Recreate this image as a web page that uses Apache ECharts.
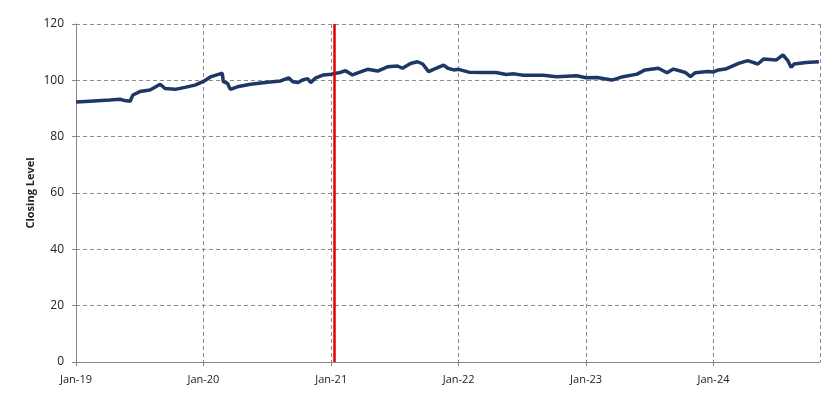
<!DOCTYPE html>
<html>
<head>
<meta charset="utf-8">
<script src="https://cdn.jsdelivr.net/npm/echarts@6/dist/echarts.min.js"></script>
<style>html,body{margin:0;padding:0;background:#fff}#c{width:837px;height:398px}</style>
</head>
<body>
<div id="c"></div>
<script>
var dates = ["2019-01-01","2019-02-10","2019-04-08","2019-05-07","2019-05-21","2019-06-05","2019-06-13","2019-07-03","2019-08-01","2019-08-30","2019-09-13","2019-10-12","2019-11-09","2019-12-08",
"2020-01-01","2020-01-21","2020-02-13","2020-02-24","2020-02-27","2020-03-10","2020-03-18","2020-04-07","2020-05-15","2020-07-02","2020-08-09","2020-09-01","2020-09-13","2020-09-27","2020-10-11","2020-10-26","2020-11-03","2020-11-18","2020-12-10",
"2021-01-01","2021-01-27","2021-02-11","2021-03-03","2021-03-20","2021-04-15","2021-05-14","2021-06-11","2021-07-10","2021-07-24","2021-08-16","2021-09-05","2021-09-20","2021-10-07","2021-10-21","2021-11-19","2021-12-01","2021-12-18",
"2022-01-01","2022-01-30","2022-03-11","2022-04-18","2022-05-17","2022-06-09","2022-07-05","2022-09-01","2022-10-08","2022-12-05",
"2023-01-01","2023-02-01","2023-03-16","2023-04-17","2023-05-27","2023-06-19","2023-07-27","2023-08-21","2023-09-08","2023-09-28","2023-10-12","2023-10-27","2023-11-10","2023-12-15",
"2024-01-01","2024-01-15","2024-02-04","2024-03-13","2024-04-08","2024-05-07","2024-05-24","2024-06-28","2024-07-18","2024-08-01","2024-08-10","2024-08-19","2024-09-22","2024-10-29"];
var closing = [92.3,92.6,93.0,93.3,92.8,92.6,94.8,96.0,96.6,98.6,97.1,96.8,97.5,98.3,
99.6,101.2,102.1,102.5,99.5,98.9,96.8,97.7,98.6,99.3,99.8,100.9,99.5,99.2,100.1,100.6,99.2,100.9,101.9,
102.2,102.8,103.4,101.9,102.7,103.9,103.3,104.8,105.1,104.3,106.0,106.6,105.8,103.1,103.9,105.4,104.3,103.7,
103.9,102.9,102.8,102.8,102.1,102.3,101.8,101.8,101.3,101.6,
100.9,101.0,100.1,101.3,102.2,103.7,104.3,102.7,104.0,103.3,102.8,101.3,102.7,103.1,
103.0,103.7,104.0,106.0,107.0,105.8,107.6,107.2,109.0,107.0,104.6,105.8,106.3,106.6];
var markerDate = "2021-01-10";
var xStart = "2019-01-01", xEnd = "2024-11-01";
var yTicks = [0, 20, 40, 60, 80, 100, 120];
var monthNames = ["Jan","Feb","Mar","Apr","May","Jun","Jul","Aug","Sep","Oct","Nov","Dec"];

var chart = echarts.init(document.getElementById('c'), null, {renderer: 'canvas'});
var font = "'Open Sans', 'Noto Sans', sans-serif";
chart.setOption({
  animation: false,
  grid: {left: 76, right: 17, top: 24, bottom: 36, containLabel: false},
  xAxis: {
    type: 'time',
    min: xStart, max: xEnd,
    minInterval: 365 * 86400000,
    maxInterval: 366 * 86400000,
    axisLine: {lineStyle: {color: '#868686', width: 1}},
    axisTick: {show: true, length: 4, lineStyle: {color: '#868686'}},
    axisLabel: {
      color: '#222', fontSize: 11, fontFamily: font, margin: 12,
      showMaxLabel: false,
      formatter: function (v) { var d = new Date(v); return monthNames[d.getMonth()] + '-' + String(d.getFullYear()).slice(2); }
    },
    splitLine: {show: true, lineStyle: {color: '#8c8c8c', type: [4, 3], width: 1}}
  },
  yAxis: {
    type: 'value', min: yTicks[0], max: yTicks[yTicks.length - 1], interval: 20,
    name: 'Closing Level', nameLocation: 'middle', nameGap: 40, nameMoveOverlap: false,
    nameTextStyle: {color: '#222', fontSize: 11, fontWeight: 'bold', fontFamily: font},
    axisLine: {show: true, lineStyle: {color: '#868686', width: 1}},
    axisTick: {show: true, length: 4, lineStyle: {color: '#868686'}},
    axisLabel: {color: '#222', fontSize: 12, fontFamily: font, margin: 12},
    splitLine: {show: true, lineStyle: {color: '#8c8c8c', type: [4, 3], width: 1}}
  },
  series: [{
    type: 'line',
    data: dates.map(function (d, i) { return [d, closing[i]]; }),
    showSymbol: false,
    lineStyle: {color: '#1f3767', width: 3.5},
    markLine: {
      silent: true, symbol: 'none',
      label: {show: false},
      lineStyle: {color: '#e00000', width: 2.5, type: 'solid'},
      data: [{xAxis: markerDate}]
    }
  }]
});
</script>
</body>
</html>
